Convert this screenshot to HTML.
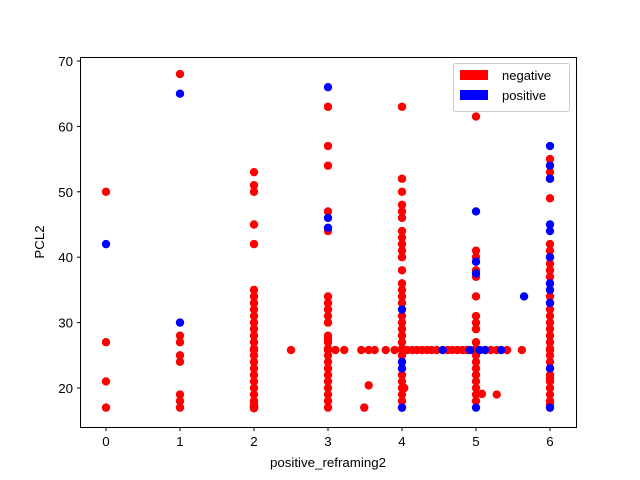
<!DOCTYPE html>
<html><head><meta charset="utf-8"><style>
body{margin:0;background:#fff;}
svg{display:block;font-family:"Liberation Sans","DejaVu Sans",sans-serif;}
</style></head><body>
<svg id="chart" width="640" height="480">
<rect x="0" y="0" width="640" height="480" fill="#fff"/>
<g id="pts"></g>
<rect x="80.5" y="57.5" width="496" height="370" fill="none" stroke="#000" stroke-width="1"/>
<g id="xt"></g>
<g id="yt"></g>
<text x="328" y="467" text-anchor="middle" font-size="13.3">positive_reframing2</text>
<text transform="translate(44,242) rotate(-90)" text-anchor="middle" font-size="13.3">PCL2</text>
<g>
<rect x="453.5" y="63.5" width="116" height="48" rx="2" fill="#fff" fill-opacity="0.8" stroke="#ccc"/>
<g><rect x="460" y="70" width="28" height="10" fill="#f00"/><text x="502" y="80" font-size="13">negative</text></g>
<g><rect x="460" y="90" width="28" height="10" fill="#00f"/><text x="502" y="100" font-size="13">positive</text></g>
</g>
</svg>
<script>
const xTicks=[0,1,2,3,4,5,6];
const yTicks=[20,30,40,50,60,70];
const negX=[0,0,0,0,
1,1,1,1,1,1,1,1,
2,2,2,2,2,2,2,2,2,2,2,2,2,2,2,2,2,2,2,2,2,2,2,2,2,2,2,2,2,2,2,2.5,
3,3,3,3,3,3,3,3,3,3,3,3,3,3,3,3,3,3,3,3,3,3,3,3,
3.1,3.22,3.45,3.55,3.63,3.78,3.9,4.07,4.14,4.2,4.27,4.34,4.4,4.47,4.62,4.68,4.75,4.82,4.88,5.13,5.2,5.28,5.42,5.62,3.49,3.55,4.03,5.08,5.28,
4,4,4,4,4,4,4,4,4,4,4,4,4,4,4,4,4,4,4,4,4,4,4,4,4,4,4,4,4,4,4,4,
5,5,5,5,5,5,5,5,5,5,5,5,5,5,5,5,5,5,5,5,
6,6,6,6,6,6,6,6,6,6,6,6,6,6,6,6,6,6,6,6,6,6,6,6,6,6,6,6,6,6,6,6,6,6,6];
const negY=[50,27,21,17,
68,28,27,25,24,19,18,17,
53,51,50,45,42,35,34,33,32,31,30,29,28,27,26,25.8,25,24,23,22,21,20,19,18,17.5,17,17.2,16.9,17.1,17.3,17,25.8,
63,57,54,47,44,34,33,32,31,30,28,27.5,27,26,25.8,25,24,23,22,21,20,19,18,17,
25.8,25.8,25.8,25.8,25.8,25.8,25.8,25.8,25.8,25.8,25.8,25.8,25.8,25.8,25.8,25.8,25.8,25.8,25.8,25.8,25.8,25.8,25.8,25.8,17,20.4,20,19.1,19,
63,52,50,48,47,46,44,43,42,41,40,38,36,35,34,33,31,30,29,28,27,26,25,24,23,22,21,20,19,18,17,25.8,
61.5,41,40,38,37,34,31,30,29,27,26,25.8,25,24,23,22,21,20,19,18,
55,54,53,52,49,42,41,40,39,38,37,36,35,34,33,32,31,30,29,28,27,26,25,24,23,22,21,20,19,18,17,17.5,25.8,23,21.5];
const posX=[0,1,1,3,3,3,4,4,4,4,4.55,4.92,5.05,5.12,5.34,5,5,5,5,5.65,6,6,6,6,6,6,6,6,6,6,6];
const posY=[42,65,30,66,46,44.5,32,24,23,17,25.8,25.8,25.8,25.8,25.8,47,39.3,37.5,17,34,57,54,52,45,44,40,36,35,33,23,17];
const X=v=>106+v*74, Y=v=>388-(v-20)*6.54;
const NS="http://www.w3.org/2000/svg";
const pts=document.getElementById('pts');
function dot(x,y,c,nm){const e=document.createElementNS(NS,'circle');
e.setAttribute('cx',X(x));e.setAttribute('cy',Y(y));e.setAttribute('r',4.2);e.setAttribute('fill',c);


pts.appendChild(e);}
negX.forEach((x,i)=>dot(x,negY[i],'#f00','negative-point'));
posX.forEach((x,i)=>dot(x,posY[i],'#00f','positive-point'));
const xt=document.getElementById('xt');
xTicks.forEach(t=>{const g=document.createElementNS(NS,'g');


g.innerHTML=`<line x1="${X(t)}" x2="${X(t)}" y1="427.5" y2="431" stroke="#000"/><text x="${X(t)}" y="446" text-anchor="middle" font-size="13.3">${t}</text>`;xt.appendChild(g);});
const yt=document.getElementById('yt');
yTicks.forEach(t=>{const g=document.createElementNS(NS,'g');


g.innerHTML=`<line x1="77" x2="80.5" y1="${Y(t)}" y2="${Y(t)}" stroke="#000"/><text x="73" y="${Y(t)+5}" text-anchor="end" font-size="13.3">${t}</text>`;yt.appendChild(g);});
</script>
</body></html>
